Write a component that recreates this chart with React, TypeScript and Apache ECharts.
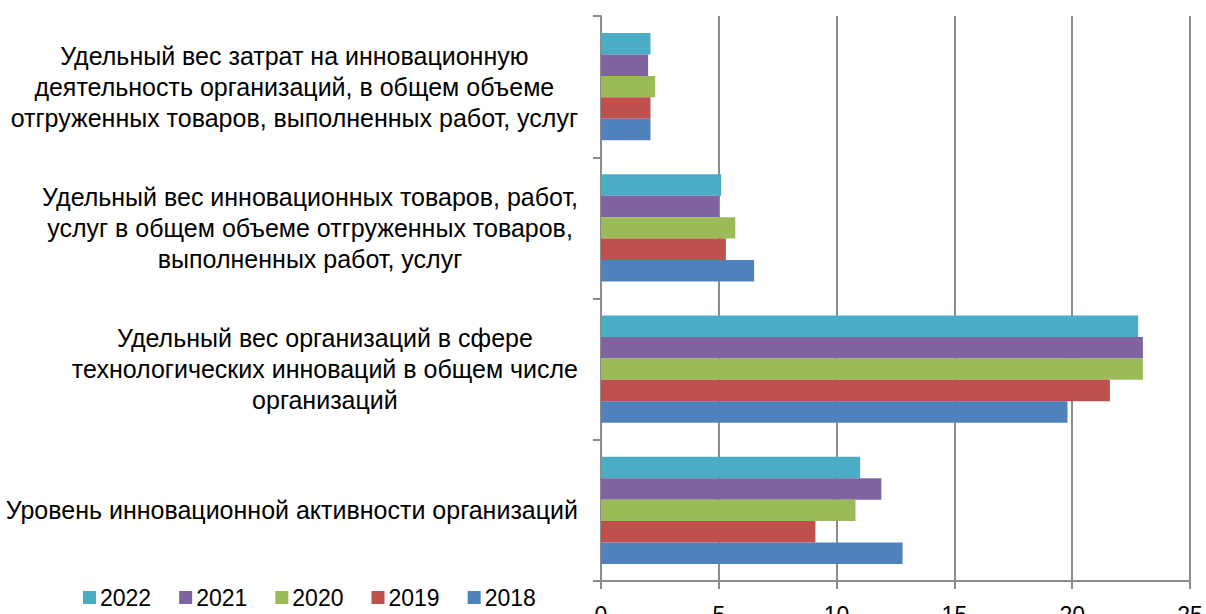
import React, { useEffect, useRef } from "react";
import * as echarts from "echarts";

const categories = [
  "Уровень инновационной активности организаций",
  "Удельный вес организаций в сфере\nтехнологических инноваций в общем числе\nорганизаций",
  "Удельный вес инновационных товаров, работ,\nуслуг в общем объеме отгруженных товаров,\nвыполненных работ, услуг",
  "Удельный вес затрат на инновационную\nдеятельность организаций, в общем объеме\nотгруженных товаров, выполненных работ, услуг",
];

const years = ["2022", "2021", "2020", "2019", "2018"];

const values2018 = [12.8, 19.8, 6.5, 2.1];
const values2019 = [9.1, 21.6, 5.3, 2.1];
const values2020 = [10.8, 23.0, 5.7, 2.3];
const values2021 = [11.9, 23.0, 5.0, 2.0];
const values2022 = [11.0, 22.8, 5.1, 2.1];

const seriesValues = [values2022, values2021, values2020, values2019, values2018];
const colors = ["#4BACC6", "#8064A2", "#9BBB59", "#C0504D", "#4F81BD"];

const xTicks = [0, 5, 10, 15, 20, 25];

const FONT = "Liberation Sans";

export default function App() {
  const ref = useRef<HTMLDivElement>(null);

  useEffect(() => {
    if (!ref.current) return;
    const chart = echarts.init(ref.current, null, { renderer: "svg" });
    chart.setOption({
      animation: false,
      backgroundColor: "#ffffff",
      textStyle: { fontFamily: FONT },
      legend: {
        data: years,
        left: 78,
        top: 581,
        itemWidth: 13,
        itemHeight: 13,
        itemGap: 28,
        icon: "rect",
        textStyle: { fontFamily: FONT, fontSize: 23, color: "#000", padding: [0, 0, 0, -1] },
      },
      grid: { left: 601, right: 16, top: 16, bottom: 33, containLabel: false, outerBoundsMode: "none" },
      xAxis: {
        type: "value",
        min: xTicks[0],
        max: xTicks[xTicks.length - 1],
        interval: 5,
        axisLine: { show: true, lineStyle: { color: "#8c8c8c", width: 2 } },
        axisTick: { show: true, length: 8, lineStyle: { color: "#8c8c8c", width: 2 } },
        splitLine: { show: true, lineStyle: { color: "#8c8c8c", width: 2 } },
        axisLabel: { fontFamily: FONT, fontSize: 23, color: "#000", margin: 22 },
      },
      yAxis: {
        type: "category",
        data: categories,
        axisLine: { show: true, lineStyle: { color: "#8c8c8c", width: 2 } },
        axisTick: { show: true, length: 8, lineStyle: { color: "#8c8c8c", width: 2 } },
        axisLabel: {
          margin: 23,
          align: "right",
          fontFamily: FONT,
          fontSize: 25,
          formatter: (v: string) => v.split("\n").map((l) => `{c|${l}}`).join("\n"),
          rich: {
            c: { fontFamily: FONT, fontSize: 25, lineHeight: 31, color: "#000", align: "center" },
          },
        },
      },
      series: years.map((y, i) => ({
        name: y,
        type: "bar",
        data: seriesValues[i],
        barGap: "0%",
        barCategoryGap: "24%",
        itemStyle: { color: colors[i] },
      })),
    });
    return () => chart.dispose();
  }, []);

  return <div ref={ref} style={{ position: "fixed", left: 0, top: 0, width: 1206, height: 614 }} />;
}
